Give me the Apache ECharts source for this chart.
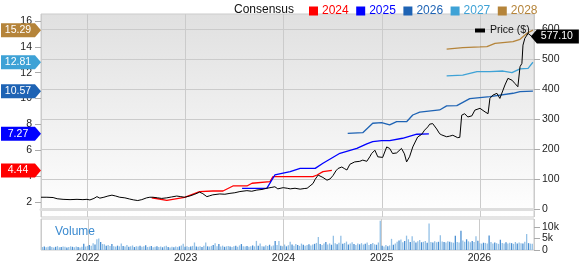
<!DOCTYPE html>
<html>
<head>
<meta charset="utf-8">
<script src="https://cdn.jsdelivr.net/npm/echarts@6/dist/echarts.min.js"></script>
<style>
  html, body { margin: 0; padding: 0; background: #fff; }
  #chart { width: 579px; height: 264px; }
</style>
</head>
<body>
<div id="chart"></div>
<script>
// time range shown
const xMin = '2021-07-13'
const xMax = '2026-07-21'

// share price ($), right axis
const priceDates = [
  '2021-07-13','2021-08-04','2021-08-27','2021-09-11','2021-10-03','2021-10-29','2021-11-24','2021-12-16','2021-12-31',
  '2022-01-11','2022-01-26','2022-02-06','2022-02-17','2022-03-04','2022-03-19','2022-04-03','2022-04-17','2022-05-02',
  '2022-05-21','2022-06-08','2022-06-23','2022-07-08','2022-07-23','2022-08-10','2022-08-22','2022-09-02','2022-09-20',
  '2022-10-05','2022-10-24','2022-11-11','2022-11-30','2022-12-15','2022-12-29',
  '2023-01-17','2023-02-05','2023-02-23','2023-03-07','2023-03-22','2023-04-02','2023-04-13','2023-05-09','2023-05-28',
  '2023-06-16','2023-07-04','2023-07-23','2023-08-18','2023-09-05','2023-09-24','2023-10-13','2023-10-31','2023-11-19',
  '2023-11-30','2023-12-11','2023-12-31',
  '2024-01-15','2024-01-26','2024-02-13','2024-03-03','2024-03-18','2024-03-29','2024-04-09','2024-04-20','2024-04-28',
  '2024-05-09','2024-05-16','2024-05-27','2024-06-11','2024-06-22','2024-07-03','2024-07-14','2024-07-22','2024-08-05',
  '2024-08-16','2024-08-24','2024-09-04','2024-09-22','2024-10-11','2024-10-22','2024-11-06','2024-11-17','2024-11-24',
  '2024-12-06','2024-12-17',
  '2025-01-04','2025-01-19','2025-01-30','2025-02-10','2025-02-25','2025-03-15','2025-03-26','2025-04-03','2025-04-14',
  '2025-04-26','2025-05-14','2025-05-29','2025-06-09','2025-06-21','2025-06-28','2025-07-09','2025-07-24','2025-08-04',
  '2025-08-12','2025-08-30','2025-09-10','2025-09-22','2025-10-10','2025-10-18','2025-10-25','2025-11-05','2025-11-17',
  '2025-12-02','2025-12-13',
  '2026-01-01','2026-01-20','2026-01-31','2026-02-07','2026-02-18','2026-03-05','2026-03-16','2026-04-04','2026-04-15',
  '2026-04-30','2026-05-11','2026-05-22','2026-05-30','2026-06-06','2026-06-10','2026-06-17','2026-06-29','2026-07-06',
  '2026-07-13'
]
const priceValues = [
  40, 40, 39, 35, 33, 32, 33, 32, 33,
  31, 36, 42, 37, 40, 44, 47, 44, 40,
  38, 34, 31, 29, 32, 38, 40, 40, 38,
  36, 38, 41, 44, 42, 40,
  44, 50, 57, 52, 42, 45, 48, 51, 50,
  53, 55, 59, 62, 60, 64, 66, 70, 73,
  75, 68, 72,
  70, 68, 70, 67, 69, 70, 78, 86, 100,
  114, 112, 106, 97, 101, 112, 128, 136, 141,
  135, 131, 150, 158, 160, 164, 160, 175, 186,
  197, 175,
  173, 208, 203, 186, 188, 203, 185, 158, 175,
  208, 241, 250, 264, 275, 284, 286, 268, 252,
  248, 242, 244, 247, 239, 240, 314, 319, 308,
  312, 331,
  337, 325, 319, 370, 381, 387, 370, 415, 437,
  431, 420, 409, 476, 487, 548, 571, 587, 593,
  577.1
]

// consensus EPS estimates by fiscal year, left axis
const eps2024Dates = ['2022-08-29','2022-10-24','2022-12-29','2023-02-23','2023-04-13','2023-05-21','2023-06-27','2023-08-18',
  '2023-09-06','2023-11-12','2023-11-23','2023-12-08','2024-04-20','2024-05-05','2024-05-27','2024-06-29']
const eps2024 = [2.33, 2.13, 2.35, 2.80, 2.85, 2.85, 3.24, 3.24, 3.45, 3.57, 3.96, 3.96, 3.96, 4.09, 4.35, 4.44]

const eps2025Dates = ['2023-07-31','2023-10-31','2023-11-30','2024-01-26','2024-03-03','2024-04-28','2024-05-27','2024-07-29',
  '2024-09-30','2024-11-06','2024-11-28','2024-12-31','2025-01-30','2025-03-19','2025-05-11','2025-06-25']
const eps2025 = [3.06, 3.06, 4.09, 4.35, 4.60, 4.60, 5.00, 5.77, 6.15, 6.50, 6.67, 6.74, 6.74, 6.93, 7.24, 7.27]

const eps2026Dates = ['2024-08-27','2024-10-22','2024-11-28','2024-12-31','2025-01-30','2025-02-25','2025-04-03','2025-04-26',
  '2025-05-22','2025-08-04','2025-08-30','2025-10-07','2025-11-24','2026-02-07','2026-05-04','2026-05-30','2026-07-17']
const eps2026 = [7.31, 7.36, 8.09, 8.14, 7.96, 8.21, 8.21, 8.73, 8.95, 9.12, 9.43, 9.45, 9.99, 10.15, 10.41, 10.53, 10.57]

const eps2027Dates = ['2025-08-30','2025-10-29','2025-12-21','2026-02-07','2026-03-28','2026-04-30','2026-05-30','2026-06-29','2026-07-17']
const eps2027 = [11.75, 11.82, 12.08, 12.08, 12.13, 12.00, 12.29, 12.34, 12.81]

const eps2028Dates = ['2025-08-30','2025-10-29','2026-01-01','2026-01-27','2026-02-26','2026-05-04','2026-05-30','2026-06-25','2026-07-17']
const eps2028 = [13.83, 13.94, 13.99, 14.02, 14.27, 14.40, 14.58, 15.05, 15.29]

// weekly volume (thousands), first bar week of 2021-07-16
const volumeStart = '2021-07-16'
const volumeValues = [
  1.3,1.5,1.2,1.4,1.6,1.3,1.1,1.4,1.7,1.2,
  1.3,1.5,1.4,1.1,1.3,1.6,1.4,1.2,1.5,1.3,
  1.1,1.4,2.7,1.5,1.8,2.2,1.9,3.0,2.4,4.7,
  5.0,3.5,2.6,2.5,1.9,2.2,1.8,2.6,1.7,1.5,
  1.9,1.6,2.8,1.8,1.5,2.2,1.4,1.6,2.0,1.3,
  1.7,1.5,1.9,1.4,1.6,2.1,1.3,1.5,1.8,1.2,
  1.4,1.7,1.3,1.5,1.2,1.6,1.9,1.3,1.1,1.4,
  1.2,1.5,1.3,1.6,2.0,2.7,1.4,1.6,1.3,1.5,
  1.8,3.3,1.5,1.4,1.7,1.3,1.9,3.3,1.6,1.5,
  1.8,2.2,3.0,1.7,2.6,1.5,1.9,1.4,1.6,1.8,
  1.5,1.3,1.7,1.9,1.4,2.0,2.6,1.6,1.5,1.8,
  1.4,1.7,2.0,1.6,4.0,1.9,2.8,1.7,1.5,2.1,
  1.8,2.3,1.6,2.0,3.9,2.2,4.0,1.9,1.7,2.4,
  1.6,2.1,3.6,2.4,1.9,2.6,2.2,1.8,2.8,2.3,
  1.9,2.2,2.5,2.0,2.4,2.7,3.1,5.7,2.6,2.2,
  2.8,3.5,2.4,2.9,2.3,6.3,3.0,2.5,3.2,6.3,
  2.7,3.1,3.7,2.4,2.9,3.4,2.6,2.2,2.8,2.5,
  3.0,2.4,2.7,3.3,2.2,2.6,3.1,2.5,2.3,3.3,
  12.8,1.9,1.5,2.2,1.7,2.0,4.9,2.3,2.8,3.6,
  4.2,4.6,3.4,4.0,6.3,4.7,3.5,6.0,4.1,3.3,
  3.8,4.4,3.4,3.6,4.0,3.2,11.6,3.5,3.3,3.8,
  3.4,3.6,6.5,3.7,3.5,3.3,3.8,3.6,3.4,3.2,
  6.3,3.5,3.3,8.4,4.2,3.6,4.7,3.8,3.4,4.0,
  3.5,6.0,4.1,3.0,2.8,3.2,3.1,2.9,6.4,3.5,
  2.9,3.3,3.0,2.7,4.5,3.1,2.8,3.4,2.9,3.2,
  3.0,2.7,3.5,2.8,3.3,3.0,2.9,3.6,7.0,3.0,
  2.8,2.7
]

// tick labels
const epsTicks = [2, 4, 6, 8, 10, 12, 14, 16]
const priceTicks = [0, 100, 200, 300, 400, 500, 600]
const volumeTicks = [0, 5, 10]

const FONT = 'Liberation Sans, Arial, sans-serif'
const GRID_LINE = '#cbcbcb'

const zip = (dates, values) => dates.map((d, i) => [d, values[i]])

const volStartMs = new Date(volumeStart + 'T00:00:00Z').getTime()
const volumeData = volumeValues.map((v, i) => [volStartMs + i * 7 * 86400000, v])

const tagPath = 'path://M0,0H34L40,7L34,14H0Z'
const epsTag = (value, color) => ({
  silent: true,
  symbol: tagPath,
  symbolSize: [40, 14],
  symbolOffset: [-20, 0],
  itemStyle: { color: color },
  label: {
    show: true,
    position: 'inside',
    offset: [-3, 0],
    color: '#fff',
    fontFamily: FONT,
    fontSize: 10.5,
    formatter: value.toFixed(2)
  },
  data: [{ coord: [xMin, value] }]
})

const epsSeries = (name, dates, values, color) => ({
  name: name,
  type: 'line',
  xAxisIndex: 0,
  yAxisIndex: 0,
  data: zip(dates, values),
  showSymbol: false,
  symbol: 'none',
  lineStyle: { color: color, width: 1.3 },
  itemStyle: { color: color },
  z: 3,
  markPoint: epsTag(values[values.length - 1], color)
})

const chart = echarts.init(document.getElementById('chart'), null, { renderer: 'canvas' })

const option = {
  animation: false,
  textStyle: { fontFamily: FONT },
  title: [
    {
      text: 'Consensus',
      left: 229,
      top: -1,
      textStyle: { fontFamily: FONT, fontSize: 12, fontWeight: 'normal', color: '#111' }
    },
    {
      text: 'Volume',
      left: 50,
      top: 221,
      textStyle: { fontFamily: FONT, fontSize: 12, fontWeight: 'normal', color: '#3a8ad0' }
    }
  ],
  legend: [
    {
      left: 304,
      top: 0,
      icon: 'rect',
      itemWidth: 9,
      itemHeight: 9,
      itemGap: 7.5,
      selectedMode: false,
      textStyle: { fontFamily: FONT, fontSize: 12, padding: [0, 0, 0, -1] },
      data: [
        { name: '2024', textStyle: { color: '#ff0000' } },
        { name: '2025', textStyle: { color: '#0000ff' } },
        { name: '2026', textStyle: { color: '#1e63b4' } },
        { name: '2027', textStyle: { color: '#3ea2d6' } },
        { name: '2028', textStyle: { color: '#b5843a' } }
      ]
    },
    {
      left: 470,
      top: 20,
      icon: 'rect',
      itemWidth: 10,
      itemHeight: 4,
      selectedMode: false,
      textStyle: { fontFamily: FONT, fontSize: 10.5, color: '#111' },
      data: ['Price ($)']
    }
  ],
  grid: [
    {
      left: 41, right: 45, top: 14, height: 203,
      show: true,
      borderColor: GRID_LINE,
      borderWidth: 1,
      backgroundColor: {
        type: 'linear', x: 0, y: 0, x2: 0, y2: 1,
        colorStops: [{ offset: 0, color: '#e0e0e0' }, { offset: 1, color: '#ffffff' }]
      }
    },
    {
      left: 41, right: 45, top: 219, height: 34,
      show: true,
      borderColor: GRID_LINE,
      borderWidth: 1,
      backgroundColor: '#fff'
    }
  ],
  xAxis: [
    {
      type: 'time',
      gridIndex: 0,
      min: xMin,
      max: xMax,
      splitNumber: 5,
      axisLine: { show: true, lineStyle: { color: '#dedede', width: 3 } },
      axisTick: { show: false },
      axisLabel: { show: false },
      splitLine: { show: true, lineStyle: { color: GRID_LINE, width: 1 } }
    },
    {
      type: 'time',
      gridIndex: 1,
      min: xMin,
      max: xMax,
      splitNumber: 5,
      axisLine: { show: false },
      axisTick: { show: false },
      axisLabel: {
        margin: 3,
        fontFamily: FONT,
        fontSize: 10.5,
        color: '#222',
        formatter: '{yyyy}',
        showMinLabel: false,
        showMaxLabel: false
      },
      splitLine: { show: true, lineStyle: { color: GRID_LINE, width: 1 } }
    }
  ],
  yAxis: [
    {
      type: 'value',
      gridIndex: 0,
      position: 'left',
      min: 0.84,
      max: 16.54,
      axisLine: { show: false },
      axisTick: { show: true, length: 6, customValues: epsTicks, lineStyle: { color: '#aaa' } },
      axisLabel: { customValues: epsTicks, margin: 9, fontFamily: FONT, fontSize: 10.5, color: '#222' },
      splitLine: { show: false }
    },
    {
      type: 'value',
      gridIndex: 0,
      position: 'right',
      min: -26,
      max: 652,
      axisLine: { show: false },
      axisTick: { show: true, length: 6, customValues: priceTicks, lineStyle: { color: '#aaa' } },
      axisLabel: { customValues: priceTicks, margin: 8, fontFamily: FONT, fontSize: 10.5, color: '#222' },
      splitLine: { show: true, lineStyle: { color: GRID_LINE, width: 1 } }
    },
    {
      type: 'value',
      gridIndex: 1,
      position: 'right',
      min: 0,
      max: 13.6,
      axisLine: { show: false },
      axisTick: { show: true, length: 6, customValues: volumeTicks, lineStyle: { color: '#aaa' } },
      axisLabel: {
        customValues: volumeTicks,
        margin: 8,
        fontFamily: FONT,
        fontSize: 10.5,
        color: '#222',
        formatter: v => (v === 0 ? '0' : v + 'k')
      },
      splitLine: { show: false }
    }
  ],
  series: [
    epsSeries('2024', eps2024Dates, eps2024, '#ff0000'),
    epsSeries('2025', eps2025Dates, eps2025, '#0000ff'),
    epsSeries('2026', eps2026Dates, eps2026, '#1e63b4'),
    epsSeries('2027', eps2027Dates, eps2027, '#3ea2d6'),
    epsSeries('2028', eps2028Dates, eps2028, '#b5843a'),
    {
      name: 'Price ($)',
      type: 'line',
      xAxisIndex: 0,
      yAxisIndex: 1,
      data: zip(priceDates, priceValues),
      showSymbol: false,
      symbol: 'none',
      lineStyle: { color: '#000', width: 1 },
      itemStyle: { color: '#000' },
      z: 4,
      markPoint: {
        silent: true,
        symbol: 'path://M0,7L6,0H48V14H6Z',
        symbolSize: [48, 14],
        symbolOffset: [23, 0],
        itemStyle: { color: '#000' },
        label: {
          show: true,
          position: 'inside',
          offset: [2, 0],
          color: '#fff',
          fontFamily: FONT,
          fontSize: 10.5,
          formatter: priceValues[priceValues.length - 1].toFixed(2)
        },
        data: [{ coord: [priceDates[priceDates.length - 1], priceValues[priceValues.length - 1]] }]
      }
    },
    {
      name: 'Volume',
      type: 'bar',
      xAxisIndex: 1,
      yAxisIndex: 2,
      data: volumeData,
      barWidth: 1.3,
      itemStyle: {
        color: function (params) {
          return params.dataIndex % 3 === 1 ? '#4a8fd2' : '#93c0e6'
        }
      }
    }
  ]
}

chart.setOption(option)
</script>
</body>
</html>
